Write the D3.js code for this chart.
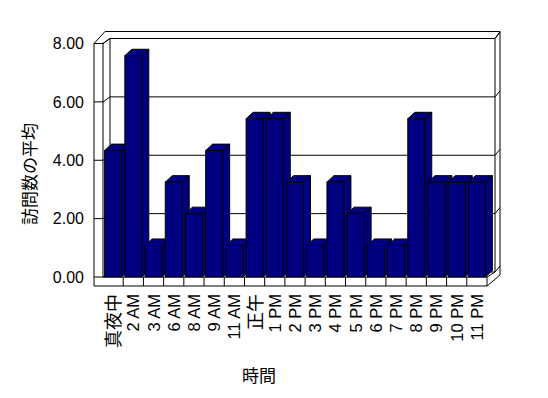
<!DOCTYPE html>
<html><head><meta charset="utf-8">
<script src="https://cdn.jsdelivr.net/npm/d3@7"></script>
<style>
html,body{margin:0;padding:0;background:#fff;}
svg{display:block;}
text{font-family:"Liberation Sans",Arial,"Noto Sans CJK JP",sans-serif;fill:#000;}
</style></head>
<body>
<script>
const categories = ["真夜中","2 AM","3 AM","6 AM","8 AM","9 AM","11 AM","正午","1 PM","2 PM","3 PM","4 PM","5 PM","6 PM","7 PM","8 PM","9 PM","10 PM","11 PM"];
const values = [4.33,7.58,1.08,3.25,2.17,4.33,1.08,5.42,5.42,3.25,1.08,3.25,2.17,1.08,1.08,5.42,3.25,3.25,3.25];
const yTicks = [0,2,4,6,8];
const yTitle = "訪問数の平均";
const xTitle = "時間";

const W = 548, H = 398;
const svg = d3.select("body").append("svg").attr("width", W).attr("height", H);

const x = d3.scaleBand().domain(categories).range([103, 487]).padding(0);
const y = d3.scaleLinear().domain([0, 8]).range([277, 43.5]);

const D = [7, -5];   // wall depth
const T = [5, -6];   // wall thickness
const B = [7, -6.5]; // bar depth
const wallL = 94, floorB = 286;

const g = svg.append("g").attr("fill", "none").attr("stroke", "#000").attr("stroke-width", 1);
const line = (pts) => g.append("path").attr("d", d3.line()(pts));

const xr = x.range()[1];
const yTop = y(8), y0 = y(0);
// left wall front edge face
line([[wallL, yTop], [103, yTop]]);
line([[wallL, yTop], [wallL, floorB]]);
line([[103, yTop], [103, y0]]);
// left wall top
const backTopY = yTop + D[1] + T[1] - 1;
line([[wallL, yTop], [105, backTopY]]);
line([[103, yTop], [103 + D[0], yTop + D[1]]]);
// back wall
const bx0 = 103 + D[0], bx1 = xr + D[0] + 1;
line([[105, backTopY], [bx1 + T[0], backTopY]]);
line([[bx1, yTop + D[1]], [bx1 + T[0], backTopY]]);
line([[bx1 + T[0], backTopY], [bx1 + T[0], y0 - 2]]);
line([[bx1, yTop + D[1]], [bx1, y0 + D[1]]]);
line([[bx0, yTop + D[1]], [bx0, y0 + D[1]]]);
// floor
line([[wallL, floorB], [xr, floorB]]);
line([[103, y0], [xr, y0]]);
line([[xr, y0], [xr, floorB]]);
line([[xr, floorB], [bx1 + T[0], y0 - 2]]);
line([[xr, y0], [bx1, y0 + D[1]]]);
line([[103, y0], [bx0, y0 + D[1]]]);
categories.forEach((c, i) => { if (i > 0) line([[x(c), y0], [x(c), floorB]]); });

// gridlines
yTicks.forEach(t => {
  const yy = y(t);
  line([[wallL, yy], [103, yy], [bx0, yy + D[1]], [bx1, yy + D[1]], [bx1 + T[0], yy + D[1] + T[1]]]);
});

// bars
const bw = x.bandwidth() * 0.84, boff = x.bandwidth() * 0.08;
const bars = svg.append("g").attr("fill", "#000080").attr("stroke", "#000").attr("stroke-width", 1);
categories.forEach((c, i) => {
  const v = values[i];
  const x0 = x(c) + boff, x1 = x0 + bw, yt = y(v), yb = y(0);
  const gb = bars.append("g");
  gb.append("path").attr("d", d3.line()([[x1, yb], [x1 + B[0], yb + B[1]], [x1 + B[0], yt + B[1]], [x1, yt]]) + "Z");
  gb.append("path").attr("d", d3.line()([[x0, yt], [x0 + B[0], yt + B[1]], [x1 + B[0], yt + B[1]], [x1, yt]]) + "Z");
  gb.append("rect").attr("x", x0).attr("y", yt).attr("width", bw).attr("height", yb - yt);
});

// y tick labels
svg.append("g").selectAll("text").data(yTicks).join("text")
  .attr("x", 84).attr("y", d => y(d)).attr("dy", "0.36em")
  .attr("text-anchor", "end").attr("font-size", 16)
  .text(d => d3.format(".2f")(d));

// x tick labels
const isCJK = s => /[\u3040-\u9fff]/.test(s);
svg.append("g").selectAll("text").data(categories).join("text")
  .attr("transform", d => `translate(${x(d) + x.bandwidth() / 2 + (isCJK(d) ? 7 : 6)},294) rotate(-90)`)
  .attr("text-anchor", "end").attr("font-size", d => isCJK(d) ? 18 : 16.5)
  .text(d => d);

// titles
svg.append("text").attr("transform", "translate(36,174) rotate(-90)")
  .attr("text-anchor", "middle").attr("font-size", 17).text(yTitle);
svg.append("text").attr("x", 259).attr("y", 382)
  .attr("text-anchor", "middle").attr("font-size", 17).text(xTitle);
</script>
</body></html>
